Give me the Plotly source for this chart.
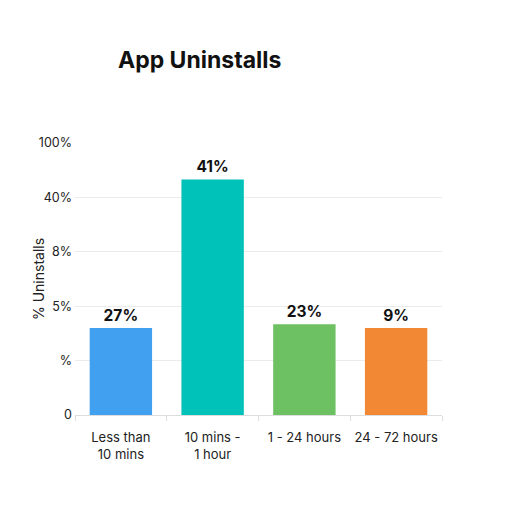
import plotly.graph_objects as go

categories = ["Less than<br>10 mins", "10 mins -<br>1 hour", "1 - 24 hours", "24 - 72 hours"]
bar_heights = [1.6, 4.33, 1.67, 1.6]
bar_labels = ["27%", "41%", "23%", "9%"]
colors = ["#42A0F0", "#00C2B8", "#6DC162", "#F28834"]
ytick_vals = [0, 1, 2, 3, 4, 5]
ytick_text = ["0", "%", "5%", "8%", "40%", "100%"]

fig = go.Figure(go.Bar(
    x=categories, y=bar_heights, marker_color=colors, marker_line_width=0,
    text=bar_labels, textposition="outside", cliponaxis=False,
    textfont=dict(size=15.5, color="#111111", family="Inter", weight="bold"),
))
fig.update_layout(
    width=512, height=512, plot_bgcolor="white", paper_bgcolor="white",
    margin=dict(l=67, r=78, t=135, b=105, autoexpand=False),
    bargap=0.32, showlegend=False,
    font=dict(family="Inter", color="#222222", size=13),
    title=dict(text="<b>App Uninstalls</b>", x=110/512, xanchor="left",
               y=1-52/512, yanchor="middle", font=dict(size=23, color="#111111")),
    annotations=[dict(text="% Uninstalls", textangle=-90, xref="paper", yref="paper",
                      x=(30-67)/367, y=0.5, xanchor="center", yanchor="middle",
                      showarrow=False, font=dict(size=14, color="#222222"))],
)
fig.update_yaxes(range=[0, 5], tickvals=ytick_vals, ticktext=ytick_text,
                 showgrid=True, gridcolor="#EBEBEB", gridwidth=1, zeroline=False,
                 showline=False, ticks="", ticklabelstandoff=2,
                 tickfont=dict(size=12.5, color="#222222"))
fig.update_xaxes(showline=True, linecolor="#DDDDDD", linewidth=1, ticks="outside",
                 tickson="boundaries", ticklen=5, tickcolor="#DDDDDD", showgrid=False,
                 tickangle=0, ticklabelstandoff=10, tickfont=dict(size=13, color="#222222"))
fig.write_html("out.html")
